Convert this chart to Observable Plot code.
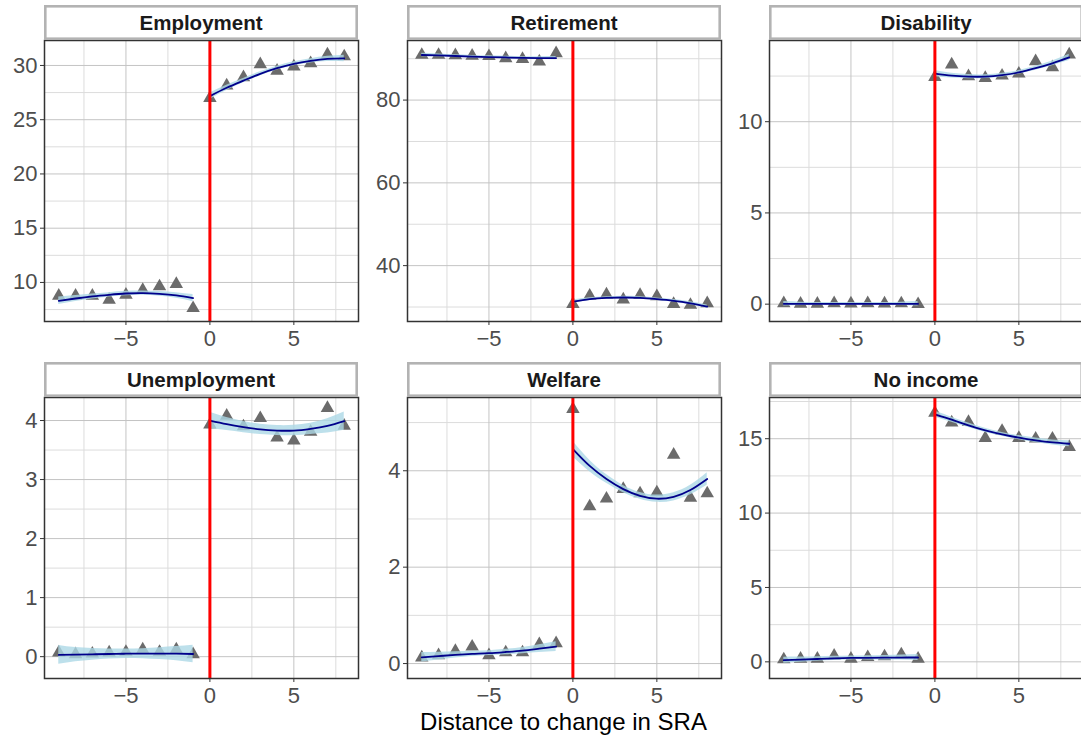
<!DOCTYPE html>
<html>
<head>
<meta charset="utf-8">
<script src="https://cdn.jsdelivr.net/npm/d3@7"></script>
<script src="https://cdn.jsdelivr.net/npm/@observablehq/plot@0.6"></script>
<style>
  body { margin: 0; background: #fff; width: 1081px; height: 742px; overflow: hidden; position: relative;
         font-family: "Liberation Sans", Arial, sans-serif; }
  .facet { position: absolute; }
  .facet svg { max-width: none !important; display: block; }
  #xtitle { position: absolute; left: 44px; width: 1039px; top: 707px; text-align: center;
            font-size: 24px; color: #000; line-height: 30px; }
</style>
</head>
<body>
<div id="chart"></div>
<div id="xtitle">Distance to change in SRA</div>
<script>
// Years relative to the change in the statutory retirement age (SRA)
const distance = [-9, -8, -7, -6, -5, -4, -3, -2, -1, 0, 1, 2, 3, 4, 5, 6, 7, 8];

// Share (%) in each state, by distance
const employmentShare   = [8.77, 8.77, 8.77, 8.4, 8.86, 9.3, 9.63, 9.85, 7.63, 27.0, 28.15, 28.9, 30.1, 29.5, 29.9, 30.2, 31.0, 30.83];
const retirementShare   = [90.9, 90.9, 90.8, 90.7, 90.6, 90.1, 89.9, 89.3, 91.3, 30.7, 32.7, 33.0, 31.8, 32.9, 32.6, 30.7, 30.5, 30.9];
const disabilityShare   = [0.05, 0.02, 0.02, 0.05, 0.03, 0.05, 0.03, 0.04, 0.0, 12.45, 13.13, 12.49, 12.39, 12.52, 12.63, 13.31, 12.98, 13.68];
const unemploymentShare = [0.07, 0.04, 0.05, 0.07, 0.08, 0.12, 0.08, 0.12, 0.04, 3.93, 4.08, 3.9, 4.04, 3.71, 3.66, 3.81, 4.21, 3.91];
const welfareShare      = [0.125, 0.17, 0.26, 0.35, 0.17, 0.23, 0.23, 0.4, 0.42, 5.28, 3.26, 3.42, 3.62, 3.53, 3.55, 4.33, 3.44, 3.53];
const noIncomeShare     = [0.16, 0.2, 0.2, 0.4, 0.2, 0.31, 0.36, 0.5, 0.2, 16.73, 16.08, 16.12, 15.04, 15.52, 15.04, 15.0, 15.0, 14.44];

// Smoothed fit on each side of the cutoff
const employmentFit   = [8.31, 8.52, 8.71, 8.86, 8.98, 9.02, 8.95, 8.8, 8.55, 27.17, 27.94, 28.6, 29.23, 29.75, 30.15, 30.42, 30.6, 30.65];
const retirementFit   = [90.9, 90.8, 90.65, 90.5, 90.4, 90.3, 90.2, 90.15, 90.15, 31.3, 31.9, 32.2, 32.3, 32.2, 31.9, 31.5, 30.9, 30.1];
const disabilityFit   = [0.02, 0.02, 0.02, 0.02, 0.02, 0.02, 0.02, 0.02, 0.02, 12.63, 12.52, 12.47, 12.47, 12.55, 12.7, 12.93, 13.2, 13.52];
const unemploymentFit = [0.03, 0.035, 0.04, 0.045, 0.05, 0.05, 0.05, 0.05, 0.045, 4.0, 3.94, 3.89, 3.85, 3.83, 3.83, 3.86, 3.91, 3.99];
const welfareFit      = [0.13, 0.155, 0.18, 0.2, 0.215, 0.24, 0.27, 0.31, 0.35, 4.45, 4.1, 3.83, 3.62, 3.48, 3.42, 3.46, 3.6, 3.83];
const noIncomeFit     = [0.11, 0.15, 0.19, 0.23, 0.26, 0.27, 0.28, 0.29, 0.29, 16.64, 16.28, 15.9, 15.56, 15.29, 15.07, 14.89, 14.75, 14.66];

// Half-width of the confidence band around each fit
const employmentBand   = [0.35, 0.28, 0.23, 0.2, 0.2, 0.2, 0.22, 0.26, 0.33, 0.3, 0.24, 0.2, 0.18, 0.18, 0.18, 0.2, 0.24, 0.3];
const retirementBand   = [0.4, 0.35, 0.3, 0.3, 0.3, 0.3, 0.3, 0.35, 0.4, 0.4, 0.35, 0.3, 0.3, 0.3, 0.3, 0.3, 0.35, 0.4];
const disabilityBand   = [0.12, 0.09, 0.07, 0.07, 0.07, 0.07, 0.07, 0.09, 0.12, 0.17, 0.13, 0.11, 0.1, 0.1, 0.1, 0.11, 0.13, 0.17];
const unemploymentBand = [0.16, 0.12, 0.1, 0.085, 0.08, 0.085, 0.1, 0.12, 0.15, 0.14, 0.11, 0.095, 0.088, 0.085, 0.088, 0.095, 0.12, 0.155];
const welfareBand      = [0.1, 0.08, 0.065, 0.055, 0.05, 0.055, 0.065, 0.08, 0.1, 0.16, 0.12, 0.09, 0.075, 0.07, 0.075, 0.085, 0.1, 0.13];
const noIncomeBand     = [0.2, 0.17, 0.15, 0.14, 0.13, 0.14, 0.15, 0.17, 0.2, 0.2, 0.17, 0.15, 0.14, 0.13, 0.14, 0.15, 0.17, 0.2];

// Facet titles and axis settings
const titles       = ["Employment", "Retirement", "Disability", "Unemployment", "Welfare", "No income"];
const xDomain      = [-9.85, 8.85];
const xMajor       = [-5, 0, 5];
const xMinor       = [-7.5, -2.5, 2.5, 7.5];
const yDomains     = [[6.4, 32.3], [26.5, 94.4], [-0.95, 14.45], [-0.37, 4.39], [-0.31, 5.52], [-1.12, 17.77]];
const yMajorTicks  = [[10, 15, 20, 25, 30], [40, 60, 80], [0, 5, 10], [0, 1, 2, 3, 4], [0, 2, 4], [0, 5, 10, 15]];
const yMinorTicks  = [[7.5, 12.5, 17.5, 22.5, 27.5], [30, 50, 70, 90], [2.5, 7.5, 12.5], [0.5, 1.5, 2.5, 3.5], [1, 3, 5], [2.5, 7.5, 12.5, 17.5]];

const shares = [employmentShare, retirementShare, disabilityShare, unemploymentShare, welfareShare, noIncomeShare];
const fits   = [employmentFit, retirementFit, disabilityFit, unemploymentFit, welfareFit, noIncomeFit];
const bands  = [employmentBand, retirementBand, disabilityBand, unemploymentBand, welfareBand, noIncomeBand];

const ML = 44, MT = 40, W = 314, H = 281, MB = 40, MR = 4;
const colLeft = [0, 362.5, 724.5];
const rowTop  = [0, 357];

const root = document.getElementById("chart");

titles.forEach((title, k) => {
  const rows = distance.map((x, i) => ({
    x,
    y: shares[k][i],
    fit: fits[k][i],
    lo: fits[k][i] - bands[k][i],
    hi: fits[k][i] + bands[k][i],
    side: x < 0 ? "before" : "after"
  }));

  const chart = Plot.plot({
    width: ML + W + MR,
    height: MT + H + MB,
    marginLeft: ML, marginTop: MT, marginRight: MR, marginBottom: MB,
    x: {domain: xDomain},
    y: {domain: yDomains[k]},
    style: {fontFamily: "Liberation Sans, Arial, sans-serif", fontSize: "22px", color: "#4d4d4d", background: "transparent", overflow: "visible"},
    marks: [
      Plot.gridX(xMinor, {stroke: "#dcdcdc", strokeOpacity: 1, strokeWidth: 1}),
      Plot.gridY(yMinorTicks[k], {stroke: "#dcdcdc", strokeOpacity: 1, strokeWidth: 1}),
      Plot.gridX(xMajor, {stroke: "#c4c4c4", strokeOpacity: 1, strokeWidth: 1}),
      Plot.gridY(yMajorTicks[k], {stroke: "#c4c4c4", strokeOpacity: 1, strokeWidth: 1}),
      Plot.dot(rows, {x: "x", y: "y", symbol: "triangle", fill: "#6b6b6b", r: 5}),
      Plot.areaY(rows, {x: "x", y1: "lo", y2: "hi", z: "side", fill: "#add8e6", fillOpacity: 0.8, curve: "natural"}),
      Plot.line(rows, {x: "x", y: "fit", z: "side", stroke: "#00008b", strokeWidth: 1.8, curve: "natural"}),
      Plot.ruleX([0], {stroke: "#ff0000", strokeWidth: 3}),
      Plot.axisX(xMajor, {tickSize: 4, tickPadding: 5, stroke: "#333", label: null}),
      Plot.axisY(yMajorTicks[k], {tickSize: 4, tickPadding: 3, stroke: "#333", label: null, tickFormat: d => String(d)}),
      Plot.frame({stroke: "#333", strokeWidth: 1.5})
    ]
  });

  // Facet strip: boxed title above the panel
  const svg = d3.select(chart);
  svg.append("rect")
    .attr("x", ML + 1.3).attr("y", 6.3)
    .attr("width", W - 2.6).attr("height", 32.4)
    .attr("fill", "#fff").attr("stroke", "#b3b3b3").attr("stroke-width", 2.6);
  svg.append("text")
    .attr("x", ML + W / 2).attr("y", 23)
    .attr("text-anchor", "middle").attr("dy", "0.36em")
    .attr("font-weight", "bold").attr("font-size", 20.5).attr("fill", "#1a1a1a")
    .text(title);

  const holder = document.createElement("div");
  holder.className = "facet";
  holder.style.left = colLeft[k % 3] + "px";
  holder.style.top = rowTop[Math.floor(k / 3)] + "px";
  holder.style.width = (ML + W + MR) + "px";
  holder.appendChild(chart);
  root.appendChild(holder);
});
</script>
</body>
</html>
